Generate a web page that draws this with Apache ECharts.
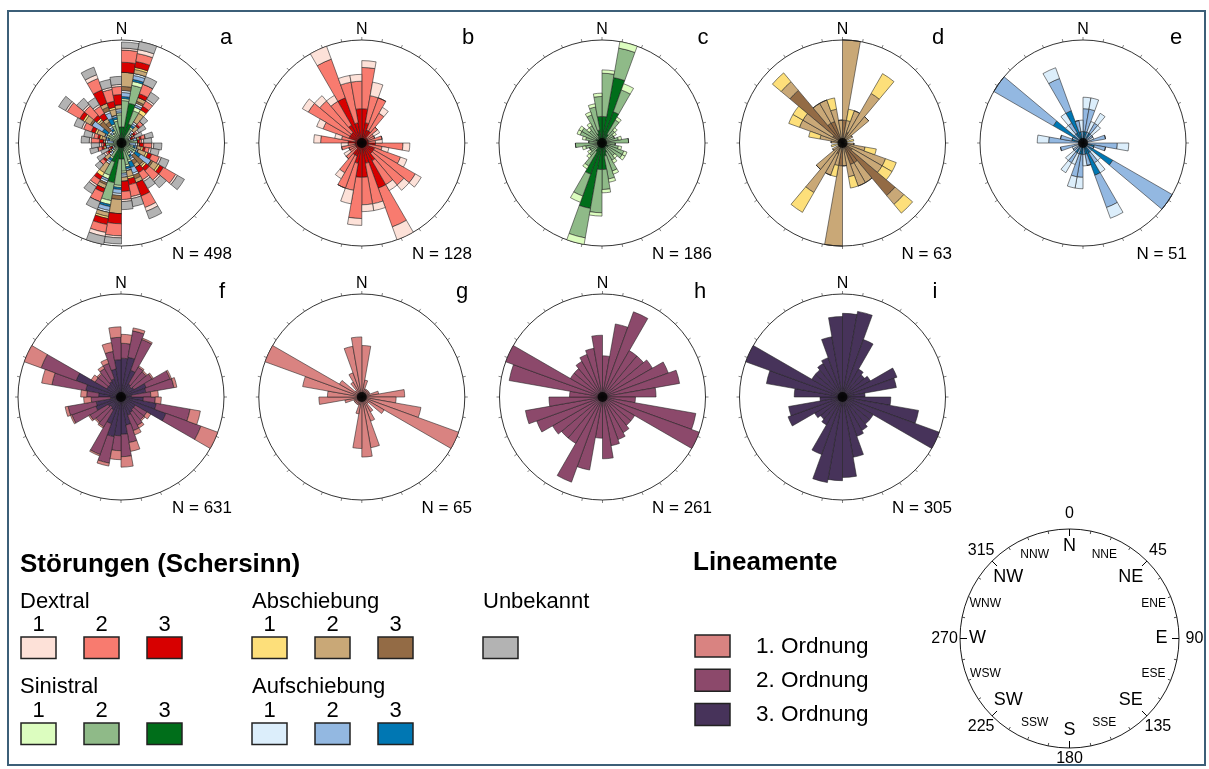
<!DOCTYPE html>
<html><head><meta charset="utf-8">
<script src="https://cdn.jsdelivr.net/npm/echarts/dist/echarts.min.js"></script>
<style>html,body{margin:0;padding:0;background:#fff}#c{width:1209px;height:769px}</style>
</head><body><div id="c"></div>
<script>
// direction bins (strike, 10° classes 0-180, shown bidirectionally)
const bins = ['0','10','20','30','40','50','60','70','80','90','100','110','120','130','140','150','160','170'];
// Störungen – counts per bin
const dex3 = [5, 3, 2, 2, 1, 1, 1, 1, 1, 2, 1, 2, 2, 2, 3, 7, 3, 5];
const dex2 = [6, 4, 5, 3, 2, 1, 1, 2, 1, 4, 2, 4, 7, 6, 4, 6, 6, 4];
const dex1 = [1, 2, 0, 1, 0, 1, 0, 0, 1, 1, 1, 1, 1, 1, 1, 2, 1, 1];
const sin3 = [8, 20, 10, 3, 2, 1, 1, 1, 1, 1, 1, 2, 2, 1, 2, 3, 4, 8];
const sin2 = [13, 9, 7, 5, 3, 3, 3, 4, 7, 3, 4, 5, 5, 4, 4, 6, 7, 6];
const sin1 = [1, 2, 2, 1, 1, 1, 0, 1, 0, 0, 1, 1, 1, 1, 1, 1, 1, 1];
const ab3  = [2, 0, 1, 0, 0, 0, 0, 0, 0, 0, 0, 0, 1, 6, 2, 2, 0, 0];
const ab2  = [7, 2, 2, 5, 3, 1, 0, 0, 0, 1, 2, 4, 3, 1, 2, 2, 3, 2];
const ab1  = [0, 1, 0, 2, 0, 0, 0, 1, 0, 0, 1, 1, 1, 1, 0, 0, 1, 0];
const auf3 = [1, 1, 0, 1, 0, 0, 0, 0, 0, 0, 1, 0, 3, 0, 1, 3, 1, 0];
const auf2 = [2, 2, 1, 1, 1, 1, 0, 2, 0, 3, 1, 1, 6, 1, 1, 3, 1, 1];
const auf1 = [1, 1, 1, 1, 1, 0, 1, 0, 0, 1, 0, 0, 0, 1, 1, 1, 0, 1];
const unk  = [3, 4, 4, 4, 3, 4, 4, 4, 4, 4, 4, 4, 4, 4, 4, 4, 4, 4];
// Lineamente – counts per bin
const lin1 = [6, 2, 1, 1, 1, 1, 1, 2, 5, 4, 7, 12, 3, 1, 2, 3, 6, 7];
const lin2 = [10, 18, 22, 13, 13, 14, 17, 19, 13, 8, 23, 25, 9, 9, 10, 11, 12, 15];
const lin3 = [26, 27, 19, 10, 9, 10, 18, 17, 7, 15, 24, 32, 11, 11, 12, 13, 19, 25];
// compass labels
const compassDirs = ['N','NNE','NE','ENE','E','ESE','SE','SSE','S','SSW','SW','WSW','W','WNW','NW','NNW'];
const compassDeg = ['0','45','90','135','180','225','270','315'];

const D = {dex1,dex2,dex3,sin1,sin2,sin3,ab1,ab2,ab3,auf1,auf2,auf3,unk,lin1,lin2,lin3};
const COL = {dex1:'#fde1d8', dex2:'#f87b6f', dex3:'#d70000', sin1:'#dcfdbf', sin2:'#8fba88', sin3:'#006e1a',
  ab1:'#fddf7a', ab2:'#c9a877', ab3:'#936b45', auf1:'#dceefb', auf2:'#93b8e1', auf3:'#0077b3', unk:'#b3b3b3',
  lin1:'#d98381', lin2:'#8c496b', lin3:'#47335a'};

const FONT = "'Liberation Sans', Arial, sans-serif";
const dirs36 = bins.concat(bins.map(b => String(Number(b) + 180)));
const R = 103;
const plots = [
  {id:'a', n:'N = 498', cx:121.5, cy:143, lx:226, nx:232, parts:['sin3','sin2','sin1','auf3','auf2','auf1','ab3','ab2','ab1','dex3','dex2','dex1','unk']},
  {id:'b', n:'N = 128', cx:361.8, cy:143, lx:468, nx:472, parts:['dex3','dex2','dex1']},
  {id:'c', n:'N = 186', cx:602, cy:143, lx:703, nx:712, parts:['sin3','sin2','sin1']},
  {id:'d', n:'N = 63', cx:842.5, cy:143, lx:938, nx:952, parts:['ab3','ab2','ab1']},
  {id:'e', n:'N = 51', cx:1083, cy:143, lx:1176, nx:1187, parts:['auf3','auf2','auf1']},
  {id:'f', n:'N = 631', cx:121, cy:397, lx:222, nx:232, parts:['lin3','lin2','lin1']},
  {id:'g', n:'N = 65', cx:361.8, cy:397, lx:462, nx:472, parts:['lin1']},
  {id:'h', n:'N = 261', cx:602.5, cy:397, lx:700, nx:712, parts:['lin2']},
  {id:'i', n:'N = 305', cx:842.5, cy:397, lx:935, nx:952, parts:['lin3']}
];

const polar = [], angleAxis = [], radiusAxis = [], series = [], graphic = [];
function txt(x, y, s, size, opt) {
  opt = opt || {};
  graphic.push({type:'text', x:x, y:y, z:100, silent:true, style:{text:s, fill:'#000',
    font:(opt.bold ? 'bold ' : '') + size + 'px ' + FONT, align:opt.align || 'center', verticalAlign:'middle'}});
}

plots.forEach((p, k) => {
  const pi = 2 * k;
  polar.push({center:[p.cx, p.cy], radius:R});
  polar.push({center:[p.cx, p.cy], radius:R});
  const totals = bins.map((_, j) => p.parts.reduce((s, key) => s + D[key][j], 0));
  angleAxis.push({polarIndex:pi, type:'category', data:dirs36, startAngle:90, clockwise:true, boundaryGap:true,
    axisLine:{show:true, lineStyle:{color:'#000', width:0.8}}, axisTick:{show:false}, axisLabel:{show:false}, splitLine:{show:false}});
  radiusAxis.push({polarIndex:pi, type:'value', min:0, max:Math.max.apply(null, totals),
    axisLine:{show:false}, axisTick:{show:false}, axisLabel:{show:false}, splitLine:{show:false}});
  angleAxis.push({polarIndex:pi + 1, type:'value', min:0, max:360, interval:11.25, startAngle:90, clockwise:true,
    axisLine:{show:false}, axisTick:{show:true, length:3, lineStyle:{color:'#333', width:0.6}},
    axisLabel:{show:false}, splitLine:{show:false}});
  radiusAxis.push({polarIndex:pi + 1, type:'value', min:0, max:1, show:false,
    axisLine:{show:false}, axisTick:{show:false}, axisLabel:{show:false}, splitLine:{show:false}});
  p.parts.forEach(key => {
    series.push({type:'bar', coordinateSystem:'polar', polarIndex:pi, stack:'st' + k, name:key,
      data:D[key].concat(D[key]), barCategoryGap:'0%', barGap:'0%', silent:true,
      itemStyle:{color:COL[key], borderColor:'#1e1e1e', borderWidth:0.55}});
  });
  series.push({type:'scatter', coordinateSystem:'polar', polarIndex:pi, data:[[0, 0]], symbolSize:10,
    itemStyle:{color:'#000'}, silent:true, z:5});
  txt(p.cx, p.cy - 113, 'N', 16);
  txt(p.lx, p.cy - 105, p.id, 22);
  txt(p.nx, p.cy + 111, p.n, 17, {align:'right'});
});

// compass
const CX = 1069.5, CY = 638.5, CR = 109.5;
const ci = polar.length;
polar.push({center:[CX, CY], radius:CR});
angleAxis.push({polarIndex:ci, type:'value', min:0, max:360, interval:45, startAngle:90, clockwise:true,
  axisLine:{show:true, lineStyle:{color:'#000', width:0.9}},
  axisTick:{show:true, inside:true, length:7, lineStyle:{color:'#000', width:1}},
  minorTick:{show:true, splitNumber:4, length:3, lineStyle:{color:'#000', width:0.7}},
  axisLabel:{show:false}, splitLine:{show:false}});
radiusAxis.push({polarIndex:ci, type:'value', min:0, max:1, show:false,
  axisLine:{show:false}, axisTick:{show:false}, axisLabel:{show:false}, splitLine:{show:false}});
compassDirs.forEach((d, j) => {
  const ang = j * 22.5 * Math.PI / 180;
  const major = j % 4 === 0, inter = j % 2 === 0 && !major;
  const r = major ? 92 : (inter ? 86.5 : 91);
  txt(CX + r * Math.sin(ang), CY - r * Math.cos(ang), d, (major || inter) ? 18 : 12);
});
compassDeg.forEach((d, j) => {
  const ang = j * 45 * Math.PI / 180;
  const r = (j === 4) ? 120 : 125;
  txt(CX + r * Math.sin(ang), CY - r * Math.cos(ang), d, 16);
});

// legend – Störungen
txt(20, 565, 'Störungen (Schersinn)', 26, {bold:true, align:'left'});
const legGroups = [
  {label:'Dextral', x:20, y:601.5, boxes:['dex1','dex2','dex3'], bx:[21, 84, 147], by:637},
  {label:'Sinistral', x:20, y:686.5, boxes:['sin1','sin2','sin3'], bx:[21, 84, 147], by:723},
  {label:'Abschiebung', x:252, y:601.5, boxes:['ab1','ab2','ab3'], bx:[252, 315, 378], by:637},
  {label:'Aufschiebung', x:252, y:686.5, boxes:['auf1','auf2','auf3'], bx:[252, 315, 378], by:723},
  {label:'Unbekannt', x:483, y:601.5, boxes:['unk'], bx:[483], by:637}
];
legGroups.forEach(g => {
  txt(g.x, g.y, g.label, 22, {align:'left'});
  g.boxes.forEach((key, j) => {
    graphic.push({type:'rect', z:100, silent:true, shape:{x:g.bx[j], y:g.by, width:35, height:21.5},
      style:{fill:COL[key], stroke:'#222', lineWidth:1.5}});
    if (g.boxes.length > 1) txt(g.bx[j] + 17.5, g.by - 12, String(j + 1), 22);
  });
});
// legend – Lineamente
txt(693, 563, 'Lineamente', 26, {bold:true, align:'left'});
['lin1','lin2','lin3'].forEach((key, j) => {
  const y = 635 + j * 34.2;
  graphic.push({type:'rect', z:100, silent:true, shape:{x:695, y:y, width:35, height:22},
    style:{fill:COL[key], stroke:'#222', lineWidth:1.5}});
  txt(756, y + 11.5, (j + 1) + '. Ordnung', 22.5, {align:'left'});
});
// frame
graphic.push({type:'rect', z:0, silent:true, shape:{x:8, y:11, width:1197, height:754},
  style:{fill:'none', stroke:'#3c5f78', lineWidth:2}});

const chart = echarts.init(document.getElementById('c'), null, {renderer:'canvas'});
chart.setOption({backgroundColor:'#fff', animation:false, polar, angleAxis, radiusAxis, series, graphic});
</script></body></html>
